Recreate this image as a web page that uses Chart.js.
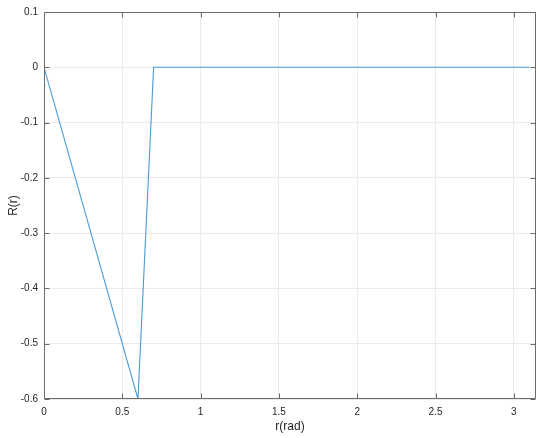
<!DOCTYPE html>
<html>
<head>
<meta charset="utf-8">
<script src="https://cdn.jsdelivr.net/npm/chart.js@4/dist/chart.umd.min.js"></script>
<style>
html,body{margin:0;padding:0;background:#fff;}
#wrap{position:relative;width:550px;height:438px;}
</style>
</head>
<body>
<div id="wrap"><canvas id="c" width="550" height="438"></canvas></div>
<script>
const rValues = [0, 0.6, 0.7, 3.1];
const RValues = [0, -0.6, 0, 0];
const xTicks = [0, 0.5, 1, 1.5, 2, 2.5, 3];
const yTicks = [-0.6, -0.5, -0.4, -0.3, -0.2, -0.1, 0, 0.1];
const xLabel = 'r(rad)';
const yLabel = 'R(r)';

const axisColor = '#6a6a6a';
const textColor = '#262626';
const gridColor = '#ebebeb';
const fontFamily = '"Liberation Sans", Arial, Helvetica, sans-serif';

const boxPlugin = {
  id: 'box',
  afterDatasetsDraw(chart) {
    const {ctx, chartArea: a, scales} = chart;
    ctx.save();
    ctx.strokeStyle = axisColor;
    ctx.lineWidth = 1;
    ctx.beginPath();
    const L = Math.round(a.left) + 0.5, R = Math.round(a.right) - 0.5;
    const T = Math.round(a.top) + 0.5, B = Math.round(a.bottom) - 0.5;
    ctx.rect(L, T, R - L, B - T);
    const tl = 5;
    xTicks.forEach(v => {
      const x = Math.round(scales.x.getPixelForValue(v)) + 0.5;
      ctx.moveTo(x, B); ctx.lineTo(x, B - tl);
      ctx.moveTo(x, T); ctx.lineTo(x, T + tl);
    });
    yTicks.forEach(v => {
      const y = Math.round(scales.y.getPixelForValue(v)) + 0.5;
      ctx.moveTo(L, y); ctx.lineTo(L + tl, y);
      ctx.moveTo(R, y); ctx.lineTo(R - tl, y);
    });
    ctx.stroke();
    ctx.restore();
  }
};

new Chart(document.getElementById('c'), {
  type: 'scatter',
  data: {
    datasets: [{
      data: rValues.map((r, i) => ({x: r, y: RValues[i]})),
      showLine: true,
      borderColor: '#4a9ad6',
      borderWidth: 1.1,
      pointRadius: 0,
      fill: false,
      tension: 0
    }]
  },
  options: {
    responsive: false,
    animation: false,
    devicePixelRatio: 1,
    layout: {padding: {top: 10, right: 14, left: 0, bottom: 0}},
    plugins: {legend: {display: false}, tooltip: {enabled: false}},
    scales: {
      x: {
        type: 'linear',
        min: 0,
        max: Math.PI,
        afterBuildTicks: s => { s.ticks = xTicks.map(v => ({value: v})); },
        afterFit: s => { s.height = 39; },
        grid: {color: gridColor, drawTicks: false},
        border: {display: false},
        ticks: {
          color: textColor, padding: 7,
          font: {family: fontFamily, size: 10},
          maxRotation: 0,
          callback: v => String(v)
        },
        title: {display: true, text: xLabel, color: textColor,
          font: {family: fontFamily, size: 12}, padding: {top: 0, bottom: 4}}
      },
      y: {
        type: 'linear',
        min: -0.6,
        max: 0.1,
        afterBuildTicks: s => { s.ticks = yTicks.map(v => ({value: v})); },
        afterFit: s => { s.width = 44; },
        grid: {color: gridColor, drawTicks: false},
        border: {display: false},
        ticks: {
          color: textColor, padding: 6,
          font: {family: fontFamily, size: 10},
          callback: v => String(Math.round(v * 10) / 10)
        },
        title: {display: true, text: yLabel, color: textColor,
          font: {family: fontFamily, size: 12}, padding: {top: 6, bottom: 0}}
      }
    }
  },
  plugins: [boxPlugin]
});
</script>
</body>
</html>
